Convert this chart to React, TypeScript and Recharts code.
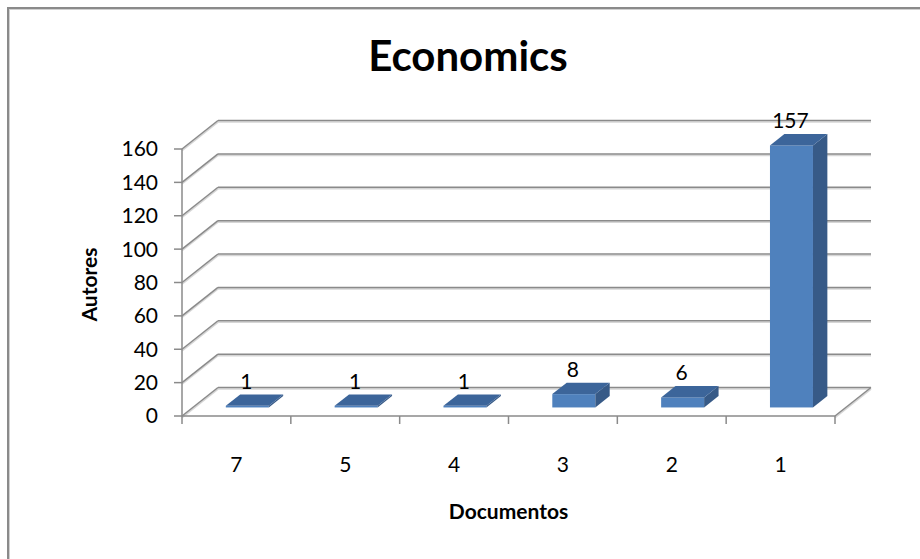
import React from 'react';
import { BarChart, Bar, XAxis, YAxis, CartesianGrid, LabelList, Label } from 'recharts';

// Autores por número de documentos
const categories = ['7', '5', '4', '3', '2', '1'];
const autores = [1, 1, 1, 8, 6, 157];
const yTicks = [0, 20, 40, 60, 80, 100, 120, 140, 160];

const data = categories.map((name, i) => ({ name, autores: autores[i] }));

const FONT = 'Lato, Carlito, Calibri, sans-serif';
const TEXT_SIZE = 21;

// offset from the front plane to the back wall (3D look)
const WALL_DX = 36;
const WALL_DY = -28.5;
// bars sit in the middle of the floor depth
const SHIFT_X = WALL_DX * 0.3;
const SHIFT_Y = WALL_DY * 0.3;
const DEPTH_X = WALL_DX * 0.4;
const DEPTH_Y = WALL_DY * 0.4;

const GRID = '#8a8a8a';
const GRID_SHADOW = '#d6d6d6';

const FRONT = '#4f81bd';
const TOP = '#3c659a';
const SIDE = '#375a87';

// one gridline: back wall segment + diagonal on the left wall
const GridRow = (p: any) => {
  const { x1, y1, x2, y, height } = p;
  const bx1 = x1 + WALL_DX;
  const bx2 = x2 + WALL_DX;
  const by = y1 + WALL_DY;
  const isFloor = Math.abs(y1 - (y + height)) < 1;
  const seg = (ax: number, ay: number, bx: number, bby: number, k: string) => (
    <g key={k}>
      <line x1={ax} y1={ay + 1.5} x2={bx} y2={bby + 1.5} stroke={GRID_SHADOW} strokeWidth={1.6} />
      <line x1={ax} y1={ay} x2={bx} y2={bby} stroke={GRID} strokeWidth={1.5} />
    </g>
  );
  return (
    <g>
      {seg(bx1, by, bx2, by, 'back')}
      {seg(x1, y1, bx1, by, 'left')}
      {isFloor && seg(x2, y1, bx2, by, 'right')}
    </g>
  );
};

const Bar3D = (props: any) => {
  const { x, y, width, height } = props;
  const fx = x + SHIFT_X;
  const fy = y + SHIFT_Y;
  const h = Math.max(height, 0);
  const top = `${fx},${fy} ${fx + width},${fy} ${fx + width + DEPTH_X},${fy + DEPTH_Y} ${fx + DEPTH_X},${fy + DEPTH_Y}`;
  const side = `${fx + width},${fy} ${fx + width + DEPTH_X},${fy + DEPTH_Y} ${fx + width + DEPTH_X},${fy + h + DEPTH_Y} ${fx + width},${fy + h}`;
  return (
    <g>
      <rect x={fx} y={fy} width={width} height={h} fill={FRONT} />
      <polygon points={side} fill={SIDE} />
      <polygon points={top} fill={TOP} />
    </g>
  );
};

const ValueLabel = (p: any) => {
  const { x, y, width, value } = p;
  return (
    <text
      x={x + width / 2 + SHIFT_X - 1}
      y={y + SHIFT_Y - 17}
      textAnchor="middle"
      fill="#000"
      fontSize={TEXT_SIZE}
      fontFamily={FONT}
    >
      {value}
    </text>
  );
};

// category label plus tick marks on the band edges
const CategoryTick = (p: any) => {
  const { x, y, payload, index } = p;
  const half = payload.offset || 54.4;
  return (
    <g>
      <line x1={x - half} y1={y} x2={x - half} y2={y + 8} stroke={GRID} strokeWidth={1.5} />
      {index === categories.length - 1 && (
        <line x1={x + half} y1={y} x2={x + half} y2={y + 8} stroke={GRID} strokeWidth={1.5} />
      )}
      <text x={x} y={y + 56} textAnchor="middle" fill="#000" fontSize={TEXT_SIZE} fontFamily={FONT}>
        {payload.value}
      </text>
    </g>
  );
};

const App = () => {
  return (
    <div style={{ position: 'absolute', left: 0, top: 0, width: 920, height: 559, background: '#fff', overflow: 'hidden' }}>
      <div
        style={{
          position: 'absolute',
          left: 7,
          top: 7,
          width: 930,
          height: 570,
          borderLeft: '2px solid #8a8a8a',
          borderTop: '2px solid #8a8a8a',
          boxShadow: 'inset 1px 1px 0 #d0d0d0',
        }}
      />
      <svg style={{ position: 'absolute', left: 0, top: 0 }} width={920} height={100}>
        <text x={468} y={71} textAnchor="middle" fontSize={42} fontWeight="bold" fontFamily={FONT} fill="#000">
          Economics
        </text>
      </svg>
      <div style={{ position: 'absolute', left: 0, top: 0 }}>
        <BarChart width={920} height={559} data={data} margin={{ top: 149, right: 85, bottom: 83, left: 60 }}>
          <CartesianGrid vertical={false} horizontal={(p: any) => <GridRow key={p.key} {...p} />} />
          <XAxis
            dataKey="name"
            height={60}
            tickLine={false}
            tickSize={0}
            tickMargin={0}
            axisLine={{ stroke: GRID, strokeWidth: 1.5 }}
            tick={<CategoryTick />}
            interval={0}
          >
            <Label
              content={(lp: any) => {
                const vb = lp.viewBox;
                return (
                  <text
                    x={vb.x + vb.width / 2}
                    y={vb.y + 103}
                    textAnchor="middle"
                    fontSize={TEXT_SIZE}
                    fontWeight="bold"
                    fontFamily={FONT}
                    fill="#000"
                  >
                    Documentos
                  </text>
                );
              }}
            />
          </XAxis>
          <YAxis
            width={122}
            domain={[0, 160]}
            ticks={yTicks}
            interval={0}
            tickSize={8}
            tickMargin={16}
            tickLine={{ stroke: GRID, strokeWidth: 1.5 }}
            axisLine={{ stroke: GRID, strokeWidth: 1.5 }}
            tick={{ fill: '#000', fontSize: TEXT_SIZE, fontFamily: FONT }}
          >
            <Label
              content={(lp: any) => {
                const vb = lp.viewBox;
                const cx = vb.x + 37;
                const cy = vb.y + vb.height / 2 + 2;
                return (
                  <text
                    x={cx}
                    y={cy}
                    transform={`rotate(-90 ${cx} ${cy})`}
                    textAnchor="middle"
                    fontSize={TEXT_SIZE}
                    fontWeight="bold"
                    fontFamily={FONT}
                    fill="#000"
                  >
                    Autores
                  </text>
                );
              }}
            />
          </YAxis>
          <Bar dataKey="autores" barSize={43} shape={<Bar3D />} isAnimationActive={false}>
            <LabelList dataKey="autores" content={<ValueLabel />} />
          </Bar>
        </BarChart>
      </div>
    </div>
  );
};

export default App;
